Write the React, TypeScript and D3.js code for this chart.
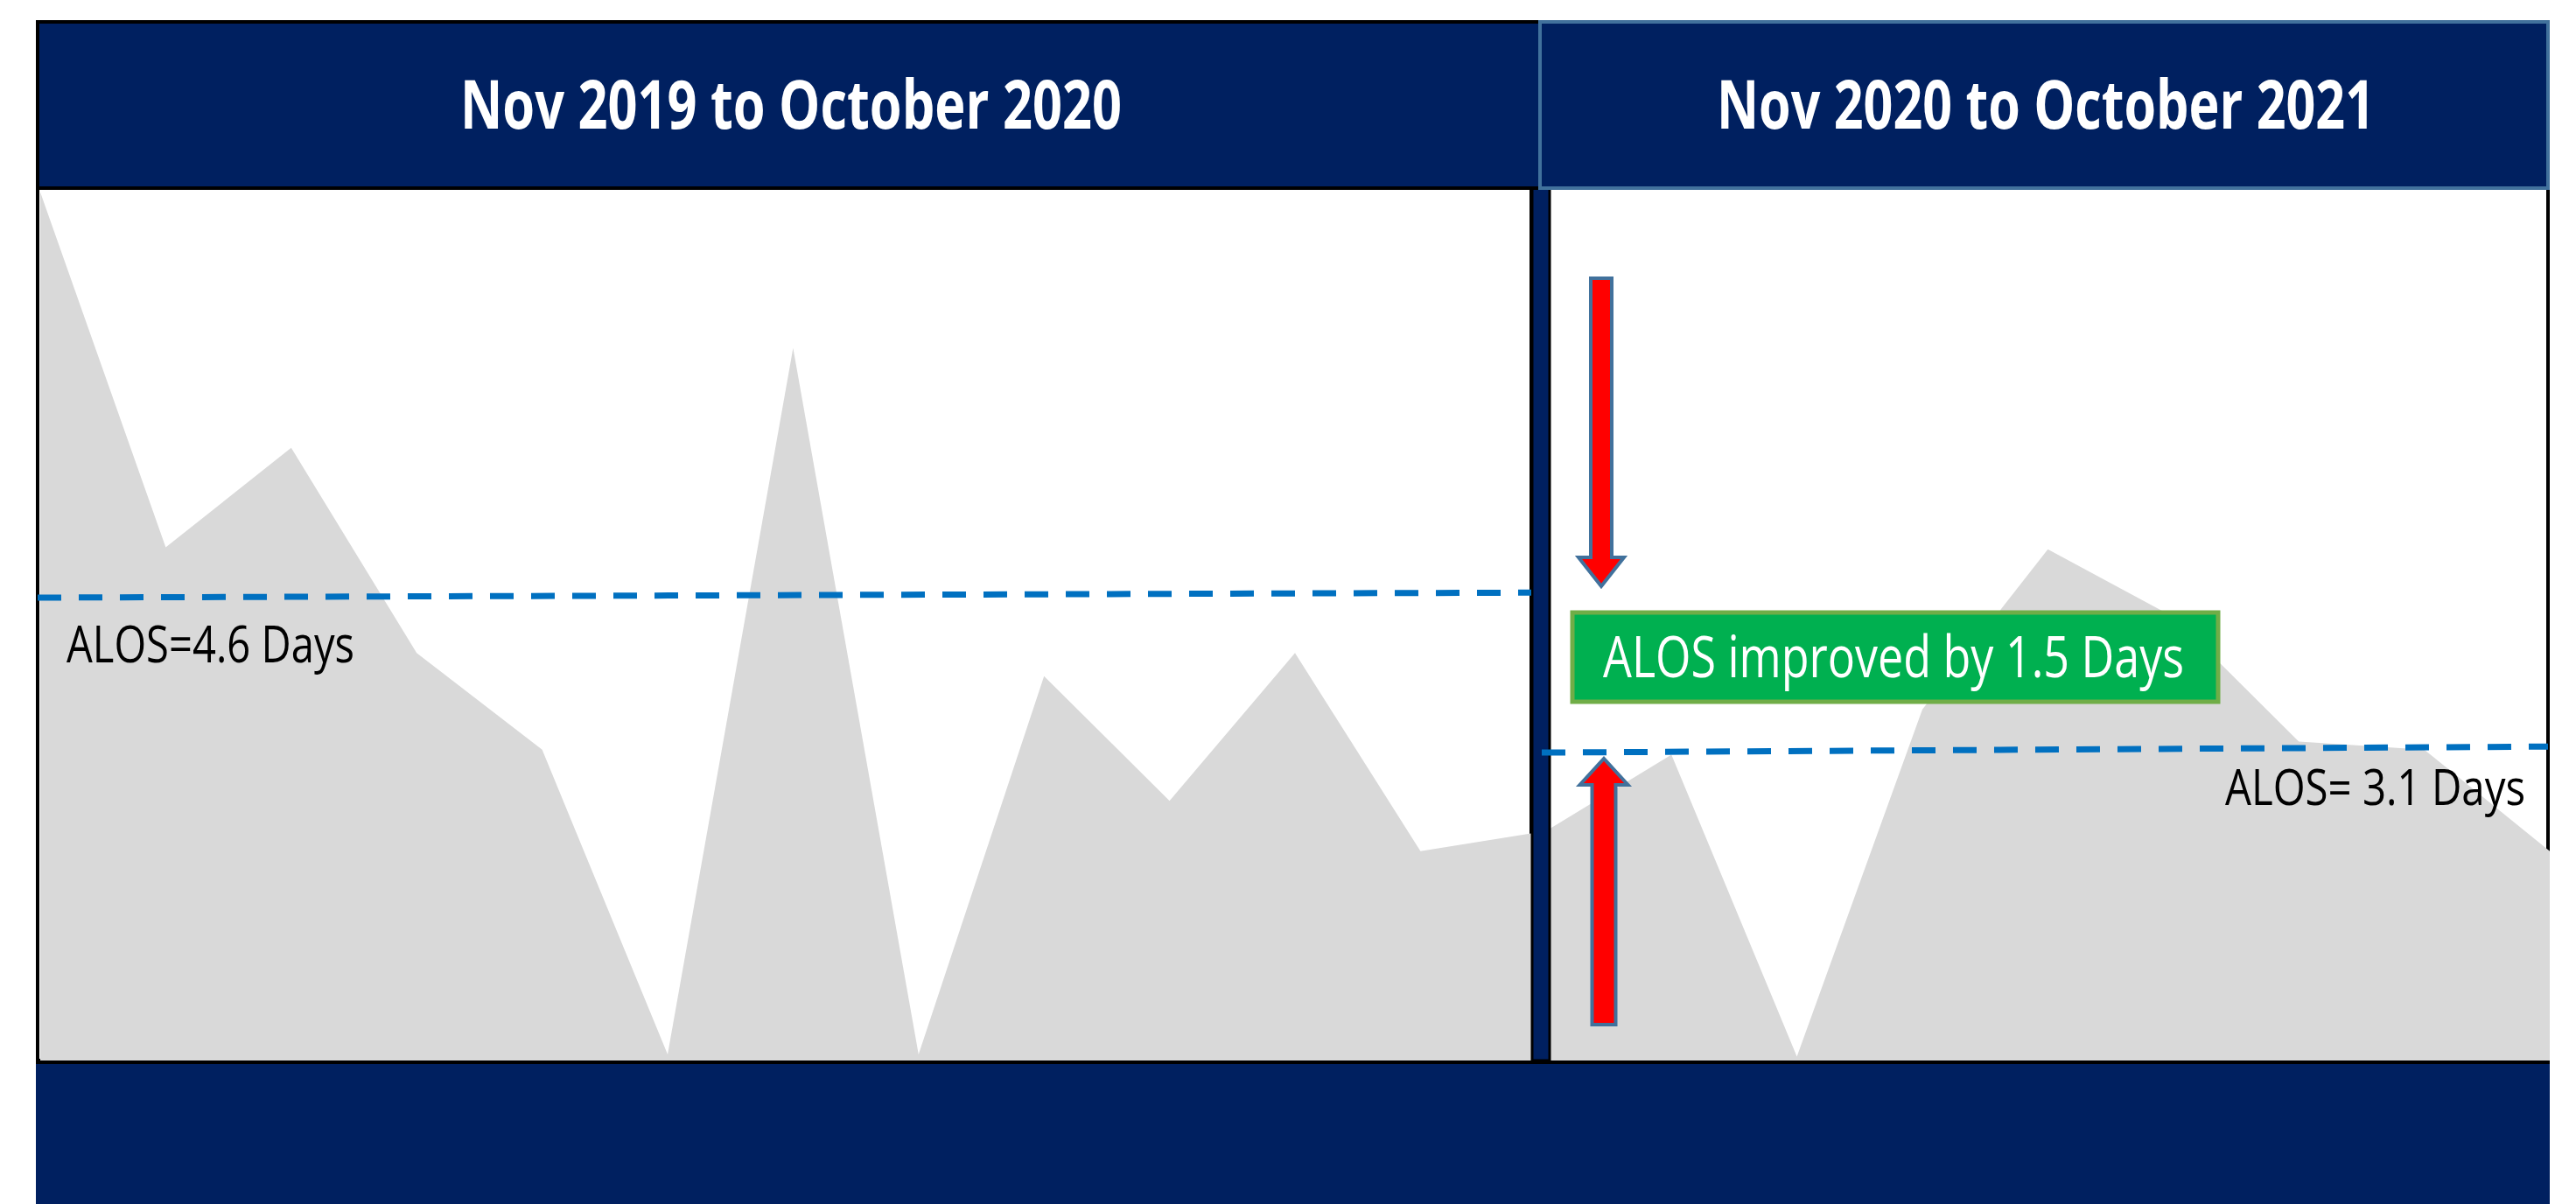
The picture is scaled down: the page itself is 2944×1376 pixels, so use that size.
import React from "react";
import * as d3 from "d3";

const months = [
  "Nov 2019", "Dec 2019", "Jan 2020", "Feb 2020", "Mar 2020", "Apr 2020",
  "May 2020", "Jun 2020", "Jul 2020", "Aug 2020", "Sep 2020", "Oct 2020",
  "Nov 2020", "Dec 2020", "Jan 2021", "Feb 2021", "Mar 2021", "Apr 2021",
  "May 2021", "Jun 2021", "Jul 2021",
];
const losDays = [
  8.63, 5.1, 6.09, 4.05, 3.09, 0.06, 7.08, 0.06, 3.82, 2.58, 4.05, 2.08,
  2.28, 3.04, 0.04, 3.49, 5.08, 4.41, 3.17, 3.09, 2.08,
];
const periodTitles = ["Nov 2019 to October 2020", "Nov 2020 to October 2021"];
const alosLabels = ["ALOS=4.6 Days", "ALOS= 3.1 Days"];
const alosStart = [4.6, 3.06];
const alosEnd = [4.65, 3.12];
const improvementLabel = "ALOS improved by 1.5 Days";

const W = 2944;
const H = 1376;
const NAVY = "#002060";

export default function App() {
  const x = d3.scalePoint<string>().domain(months).range([46, 2914]);
  const y = d3.scaleLinear().domain([0, 8.67]).range([1212, 215]);

  const area = d3
    .area<number>()
    .x((_, i) => x(months[i]) as number)
    .y0(y(0))
    .y1((d) => y(d));

  const dashedLines = [
    { x1: 43, x2: 1750, v1: alosStart[0], v2: alosEnd[0] },
    { x1: 1762, x2: 2912, v1: alosStart[1], v2: alosEnd[1] },
  ];

  const arrowPath = (cx: number, tail: number, tip: number, shaftW: number, headW: number, headL: number) => {
    const dir = tip > tail ? 1 : -1;
    const base = tip - dir * headL;
    const p = d3.path();
    p.moveTo(cx - shaftW / 2, tail);
    p.lineTo(cx + shaftW / 2, tail);
    p.lineTo(cx + shaftW / 2, base);
    p.lineTo(cx + headW / 2, base);
    p.lineTo(cx, tip);
    p.lineTo(cx - headW / 2, base);
    p.lineTo(cx - shaftW / 2, base);
    p.closePath();
    return p.toString();
  };

  return (
    <div style={{ position: "absolute", left: 0, top: 0 }}>
      <svg width={W} height={H} style={{ display: "block" }}>
        <rect x={0} y={0} width={W} height={H} fill="#ffffff" />
        {/* bottom band */}
        <rect x={41} y={1212} width={2873} height={H - 1212} fill={NAVY} />
        {/* panel borders */}
        <rect x={43} y={215} width={1707} height={997} fill="#ffffff" stroke="#000" strokeWidth={4} />
        <rect x={1770} y={215} width={1142} height={997} fill="#ffffff" stroke="#000" strokeWidth={4} />
        {/* area */}
        <path d={area(losDays) || ""} fill="#D9D9D9" />
        {/* bottom band top line */}
        <rect x={41} y={1212} width={2873} height={4} fill="#000" />
        {/* separator */}
        <rect x={1751} y={213} width={20} height={999} fill={NAVY} stroke="#000" strokeWidth={3} />
        {/* headers */}
        <rect x={43} y={25} width={1717} height={190} fill={NAVY} stroke="#000" strokeWidth={4} />
        <rect x={1760} y={25} width={1152} height={190} fill={NAVY} stroke="#41719C" strokeWidth={4} />
        <text
          x={526}
          y={147}
          fill="#fff"
          fontFamily="'Open Sans', sans-serif"
          fontWeight={700}
          fontSize={77}
          textLength={756}
          lengthAdjust="spacingAndGlyphs"
        >
          {periodTitles[0]}
        </text>
        <text
          x={1962}
          y={147}
          fill="#fff"
          fontFamily="'Open Sans', sans-serif"
          fontWeight={700}
          fontSize={77}
          textLength={752}
          lengthAdjust="spacingAndGlyphs"
        >
          {periodTitles[1]}
        </text>
        {/* ALOS dashed lines */}
        {dashedLines.map((l, i) => (
          <line
            key={i}
            x1={l.x1}
            x2={l.x2}
            y1={y(l.v1)}
            y2={y(l.v2)}
            stroke="#0070C0"
            strokeWidth={7}
            strokeDasharray="27 20"
          />
        ))}
        <text
          x={76}
          y={757}
          fill="#000"
          fontFamily="'Open Sans', sans-serif"
          fontSize={59}
          textLength={329}
          lengthAdjust="spacingAndGlyphs"
        >
          {alosLabels[0]}
        </text>
        <text
          x={2543}
          y={920}
          fill="#000"
          fontFamily="'Open Sans', sans-serif"
          fontSize={56}
          textLength={343}
          lengthAdjust="spacingAndGlyphs"
        >
          {alosLabels[1]}
        </text>
        {/* arrows */}
        <path d={arrowPath(1830, 318, 670, 24, 52, 33)} fill="#FF0000" stroke="#41719C" strokeWidth={4} strokeLinejoin="miter" />
        <path d={arrowPath(1833, 1171, 867, 27, 55, 30)} fill="#FF0000" stroke="#41719C" strokeWidth={4} strokeLinejoin="miter" />
        {/* improvement box */}
        <rect x={1797} y={700} width={738} height={102} fill="#00B050" stroke="#70AD47" strokeWidth={5} />
        <text
          x={1832}
          y={774}
          fill="#fff"
          fontFamily="'Open Sans', sans-serif"
          fontSize={66}
          textLength={664}
          lengthAdjust="spacingAndGlyphs"
        >
          {improvementLabel}
        </text>
      </svg>
    </div>
  );
}
